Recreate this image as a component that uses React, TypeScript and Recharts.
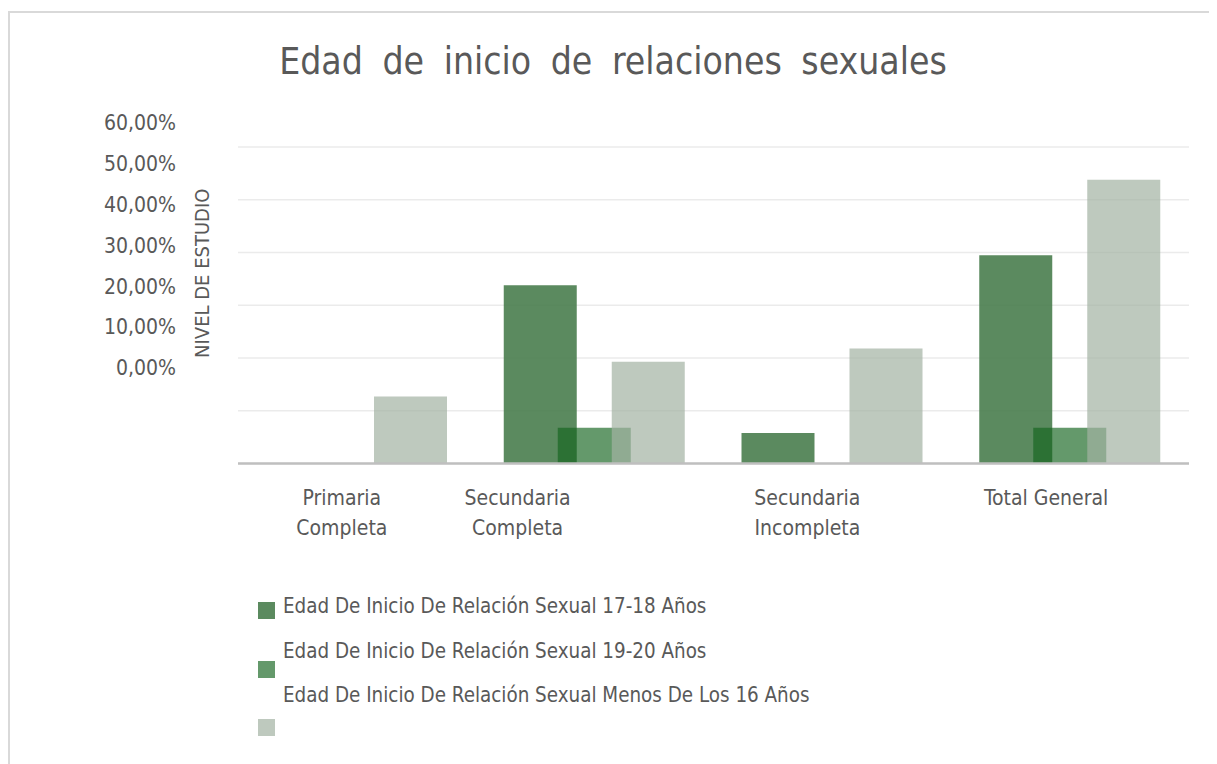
import React from "react";
import { BarChart, Bar, XAxis, YAxis, CartesianGrid, Legend } from "recharts";

// categories and values (percent)
const categories = [
  "Primaria Completa",
  "Secundaria Completa",
  "Secundaria Incompleta",
  "Total General",
];
const edad17a18 = [0, 33.8, 5.8, 39.5];
const edad19a20 = [0, 6.8, 0, 6.8];
const menosDe16 = [12.7, 19.3, 21.8, 53.8];
const yTicks = [0, 10, 20, 30, 40, 50, 60];

const seriesNames = {
  a: "Edad De Inicio De Relación Sexual 17-18 Años",
  b: "Edad De Inicio De Relación Sexual 19-20 Años",
  c: "Edad De Inicio De Relación Sexual Menos De Los 16 Años",
};

const data = categories.map((name, i) => ({
  name,
  a: edad17a18[i],
  b: edad19a20[i],
  c: menosDe16[i],
}));

const FONT = "'DejaVu Sans Condensed', 'DejaVu Sans', sans-serif";
const TEXT = "#595959";

const barStyle: Record<string, { fill: string; opacity: number }> = {
  a: { fill: "#497D4E", opacity: 0.9 },
  b: { fill: "#14641E", opacity: 0.66 },
  c: { fill: "#A2B2A3", opacity: 0.7 },
};

// Excel put the category labels a bit left of the bar groups
const xTickShift = [-15, -77, -25, -24];

const fmtPct = (v: number) => v.toFixed(2).replace(".", ",") + "%";

function YTick(props: any) {
  const { x, y, payload } = props;
  // labels sit in a tighter column than the grid lines
  const ly = 110 + (y - 134) * 0.775;
  return (
    <text x={x - 62} y={ly} dy={7} textAnchor="end" fill={TEXT} fontSize={21} fontFamily={FONT} style={{ fontStretch: "condensed" }}>
      {fmtPct(payload.value)}
    </text>
  );
}

function XTick(props: any) {
  const { x, y, payload, index } = props;
  const label: string = payload.value;
  const lines = label.length > 14 ? label.split(" ") : [label];
  const cx = x + (xTickShift[index] ?? 0);
  return (
    <text x={cx} y={y + 41.5} textAnchor="middle" fill={TEXT} fontSize={21} fontFamily={FONT} style={{ fontStretch: "condensed" }}>
      {lines.map((l, i) => (
        <tspan key={i} x={cx} dy={i === 0 ? 0 : 30}>
          {l}
        </tspan>
      ))}
    </text>
  );
}

function AxisTitle(props: any) {
  const { viewBox } = props;
  const cx = viewBox.x + viewBox.width - 36;
  const cy = viewBox.y + viewBox.height / 2 - 32;
  return (
    <text
      x={cx}
      y={cy}
      transform={`rotate(-90, ${cx}, ${cy})`}
      textAnchor="middle"
      dominantBaseline="central"
      fill={TEXT}
      fontSize={20}
      fontFamily={FONT}
      style={{ fontStretch: "condensed" }}
    >
      NIVEL DE ESTUDIO
    </text>
  );
}

function LegendBox(props: any) {
  const { payload } = props;
  return (
    <div style={{ position: "relative", width: 600, height: 170, fontFamily: FONT, fontStretch: "condensed" }}>
      {(payload || []).map((p: any, i: number) => {
        const st = barStyle[p.dataKey] || { fill: p.color, opacity: 1 };
        return (
          <React.Fragment key={p.value}>
            <div
              style={{
                position: "absolute",
                left: 0,
                top: 14 + i * 58.5,
                width: 17,
                height: 17,
                background: st.fill,
                opacity: st.opacity,
              }}
            />
            <div
              style={{
                position: "absolute",
                left: 25,
                top: 6 + i * 44.5,
                lineHeight: "24px",
                fontSize: 20.4,
                color: TEXT,
                whiteSpace: "nowrap",
              }}
            >
              {p.value}
            </div>
          </React.Fragment>
        );
      })}
    </div>
  );
}

export default function App() {
  return (
    <div style={{ paddingTop: 3 }}>
      <div
        style={{
          position: "relative",
          boxSizing: "border-box",
          width: 1208,
          height: 754,
          borderTop: "2px solid #D9D9D9",
          borderLeft: "2px solid #D9D9D9",
          borderRight: "2px solid #D9D9D9",
          background: "#fff",
        }}
      >
        <div
          style={{
            position: "absolute",
            left: 0,
            top: 27,
            width: 1206,
            textAlign: "center",
            fontFamily: FONT,
            fontStretch: "condensed",
            fontSize: 37,
            lineHeight: "44px",
            color: TEXT,
            wordSpacing: 9,
            zIndex: 1,
          }}
        >
          Edad de inicio de relaciones sexuales
        </div>
        <BarChart
          width={1204}
          height={750}
          data={data}
          barSize={73}
          barGap={-19}
          margin={{ top: 134, right: 25, bottom: 239.5, left: 100 }}
        >
          <CartesianGrid vertical={false} stroke="#EBEBEB" strokeWidth={1.5} />
          <XAxis
            dataKey="name"
            height={60}
            axisLine={{ stroke: "#BFBFBF", strokeWidth: 2.5 }}
            tickLine={false}
            tickSize={0}
            tickMargin={0}
            interval={0}
            tick={<XTick />}
          />
          <YAxis
            width={128}
            domain={[0, 60]}
            ticks={yTicks}
            axisLine={false}
            tickLine={false}
            tickSize={0}
            tickMargin={0}
            tick={<YTick />}
            label={<AxisTitle />}
          />
          <Legend
            layout="horizontal"
            verticalAlign="middle"
            align="center"
            wrapperStyle={{ left: 248, top: 575, width: 600, height: 170 }}
            content={<LegendBox />}
          />
          <Bar dataKey="a" name={seriesNames.a} fill={barStyle.a.fill} fillOpacity={barStyle.a.opacity} isAnimationActive={false} />
          <Bar dataKey="b" name={seriesNames.b} fill={barStyle.b.fill} fillOpacity={barStyle.b.opacity} isAnimationActive={false} />
          <Bar dataKey="c" name={seriesNames.c} fill={barStyle.c.fill} fillOpacity={barStyle.c.opacity} isAnimationActive={false} />
        </BarChart>
      </div>
    </div>
  );
}
